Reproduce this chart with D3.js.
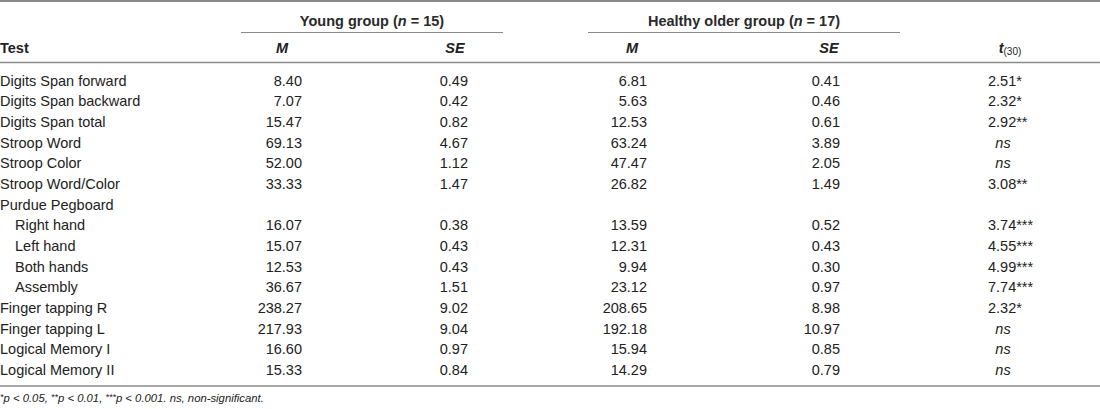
<!DOCTYPE html>
<html>
<head>
<meta charset="utf-8">
<script src="https://cdn.jsdelivr.net/npm/d3@7"></script>
<style>
  body { margin: 0; background: #fff; }
  svg { display: block; font-family: "Liberation Sans", Arial, sans-serif; }
</style>
</head>
<body>
<div id="chart-container"></div>
<script>
const tests = ["Digits Span forward", "Digits Span backward", "Digits Span total", "Stroop Word",
  "Stroop Color", "Stroop Word/Color", "Purdue Pegboard", "Right hand", "Left hand", "Both hands",
  "Assembly", "Finger tapping R", "Finger tapping L", "Logical Memory I", "Logical Memory II"]
const subRows = ["Right hand", "Left hand", "Both hands", "Assembly"]
const youngM = ["8.40", "7.07", "15.47", "69.13", "52.00", "33.33", "", "16.07", "15.07", "12.53", "36.67", "238.27", "217.93", "16.60", "15.33"]
const youngSE = ["0.49", "0.42", "0.82", "4.67", "1.12", "1.47", "", "0.38", "0.43", "0.43", "1.51", "9.02", "9.04", "0.97", "0.84"]
const olderM = ["6.81", "5.63", "12.53", "63.24", "47.47", "26.82", "", "13.59", "12.31", "9.94", "23.12", "208.65", "192.18", "15.94", "14.29"]
const olderSE = ["0.41", "0.46", "0.61", "3.89", "2.05", "1.49", "", "0.52", "0.43", "0.30", "0.97", "8.98", "10.97", "0.85", "0.79"]
const tValues = ["2.51", "2.32", "2.92", "ns", "ns", "3.08", "", "3.74", "4.55", "4.99", "7.74", "2.32", "ns", "ns", "ns"]
const tStars = ["*", "*", "**", "", "", "**", "", "***", "***", "***", "***", "*", "", "", ""]
const groups = ["Young group", "Healthy older group"]
const groupN = [15, 17]

const width = 1100
const height = 409
const ink = '#222'
const rule = '#8a8a8a'

const svg = d3.select('#chart-container')
  .append('svg')
  .attr('width', width)
  .attr('height', height)

// rows
const yScale = d3.scalePoint()
  .domain(d3.range(tests.length))
  .range([80.7, 370])

// value columns: right edge of numbers
const colRight = d3.scaleOrdinal()
  .domain(['youngM', 'youngSE', 'olderM', 'olderSE'])
  .range([302, 468, 647, 840])
const colCenter = d3.scaleOrdinal()
  .domain(['youngM', 'youngSE', 'olderM', 'olderSE', 't'])
  .range([282, 455, 632, 829, 1010])
const groupSpan = d3.scaleOrdinal()
  .domain(groups)
  .range([[241, 503], [588, 900]])

// rules
svg.append('line').attr('x1', 0).attr('x2', width).attr('y1', 1).attr('y2', 1)
  .attr('stroke', rule).attr('stroke-width', 2)
svg.append('line').attr('x1', 0).attr('x2', width).attr('y1', 62.5).attr('y2', 62.5)
  .attr('stroke', rule).attr('stroke-width', 1.5)
svg.append('line').attr('x1', 0).attr('x2', width).attr('y1', 386).attr('y2', 386)
  .attr('stroke', rule).attr('stroke-width', 1.5)

// group headers
groups.forEach((g, i) => {
  const [a, b] = groupSpan(g)
  svg.append('line').attr('x1', a).attr('x2', b).attr('y1', 32.5).attr('y2', 32.5)
    .attr('stroke', rule).attr('stroke-width', 1.2)
  const t = svg.append('text')
    .attr('x', (a + b) / 2)
    .attr('y', 25.5)
    .attr('text-anchor', 'middle')
    .attr('font-size', 14.5)
    .attr('font-weight', 'bold')
    .attr('fill', '#2a2a2a')
  t.append('tspan').text(g + ' (')
  t.append('tspan').attr('font-style', 'italic').text('n')
  t.append('tspan').text(' = ' + groupN[i] + ')')
})

// column headers
svg.append('text').attr('x', 0).attr('y', 52.5)
  .attr('font-size', 14.5).attr('font-weight', 'bold').attr('fill', ink).text('Test')
const heads = [['youngM', 'M'], ['youngSE', 'SE'], ['olderM', 'M'], ['olderSE', 'SE']]
svg.selectAll('text.head')
  .data(heads)
  .enter()
  .append('text')
  .attr('class', 'head')
  .attr('x', d => colCenter(d[0]))
  .attr('y', 52.5)
  .attr('text-anchor', 'middle')
  .attr('font-size', 14.5)
  .attr('font-weight', 'bold')
  .attr('font-style', 'italic')
  .attr('fill', ink)
  .text(d => d[1])
const th = svg.append('text').attr('x', colCenter('t')).attr('y', 52.5)
  .attr('text-anchor', 'middle').attr('font-size', 14.5).attr('fill', ink)
th.append('tspan').attr('font-weight', 'bold').attr('font-style', 'italic').text('t')
th.append('tspan').attr('font-size', 10).attr('dy', 2).text('(30)')

// body
const rows = svg.selectAll('g.row')
  .data(tests)
  .enter()
  .append('g')
  .attr('class', 'row')
  .attr('transform', (d, i) => `translate(0,${yScale(i) + 5})`)
  .attr('font-size', 14.5)
  .attr('fill', ink)

rows.append('text')
  .attr('x', d => subRows.includes(d) ? 15 : 0)
  .text(d => d)

const cols = [['youngM', youngM], ['youngSE', youngSE], ['olderM', olderM], ['olderSE', olderSE]]
cols.forEach(([key, arr]) => {
  rows.append('text')
    .attr('x', colRight(key))
    .attr('text-anchor', 'end')
    .text((d, i) => arr[i])
})

rows.each(function (d, i) {
  const g = d3.select(this)
  if (tValues[i] === 'ns') {
    g.append('text').attr('x', 1003).attr('text-anchor', 'middle')
      .attr('font-style', 'italic').text('ns')
  } else if (tValues[i]) {
    g.append('text').attr('x', 988).text(tValues[i] + tStars[i])
  }
})

// footnote
const fn = svg.append('text').attr('x', 0).attr('y', 402)
  .attr('font-size', 11.3).attr('font-style', 'italic').attr('fill', ink)
const parts = [['*', 'p', ' < 0.05, '], ['**', 'p', ' < 0.01, '], ['***', 'p', ' < 0.001. ns, non-significant.']]
parts.forEach(([s, p, rest]) => {
  fn.append('tspan').attr('font-size', 9).attr('dy', -2).text(s)
  fn.append('tspan').attr('dy', 2).text(p)
  fn.append('tspan').text(rest)
})
</script>
</body>
</html>
